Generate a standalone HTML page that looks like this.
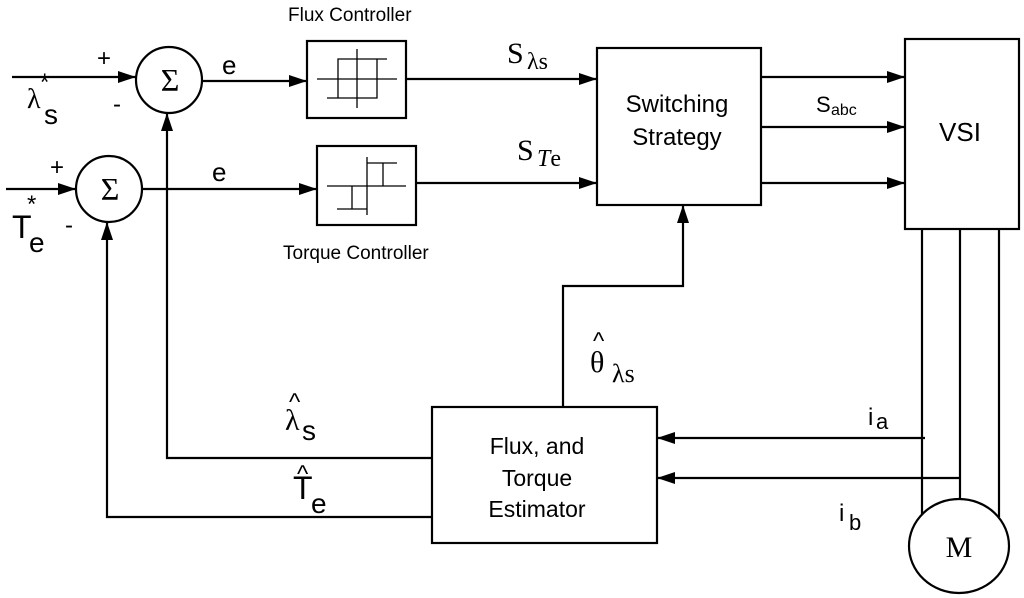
<!DOCTYPE html>
<html><head><meta charset="utf-8"><style>
html,body{margin:0;padding:0;background:#fff;}
svg{display:block;}
.s{font-family:"Liberation Sans",sans-serif;}
.r{font-family:"Liberation Serif",serif;}
</style></head><body>
<svg width="1024" height="598" viewBox="0 0 1024 598" xmlns="http://www.w3.org/2000/svg">
<defs>
<marker id="a" markerWidth="18" markerHeight="12" refX="18" refY="6" orient="auto" markerUnits="userSpaceOnUse">
<path d="M0,0 L18,6 L0,12 Z" fill="#000"/></marker>
</defs>
<g stroke="#000" stroke-width="2.2" fill="none">
<circle cx="169" cy="80" r="33" fill="#fff"/>
<circle cx="109" cy="189" r="33" fill="#fff"/>
<line x1="12" y1="77" x2="136" y2="77" marker-end="url(#a)"/>
<line x1="6" y1="189" x2="76" y2="189" marker-end="url(#a)"/>
<line x1="202" y1="81" x2="307" y2="81" marker-end="url(#a)"/>
<line x1="142" y1="189" x2="317" y2="189" marker-end="url(#a)"/>
<rect x="307" y="41" width="99" height="77"/>
<rect x="317" y="146" width="99" height="79"/>
<line x1="406" y1="79" x2="597" y2="79" marker-end="url(#a)"/>
<line x1="416" y1="183" x2="597" y2="183" marker-end="url(#a)"/>
<rect x="597" y="48" width="164" height="157"/>
<rect x="905" y="39" width="114" height="190"/>
<line x1="761" y1="77" x2="905" y2="77" marker-end="url(#a)"/>
<line x1="761" y1="127" x2="905" y2="127" marker-end="url(#a)"/>
<line x1="761" y1="183" x2="905" y2="183" marker-end="url(#a)"/>
<polyline points="563,407 563,286 683,286 683,205" marker-end="url(#a)"/>
<rect x="432" y="407" width="225" height="136"/>
<polyline points="432,458 167,458 167,113" marker-end="url(#a)"/>
<polyline points="432,517 107,517 107,222" marker-end="url(#a)"/>
<line x1="922" y1="229" x2="922" y2="514"/>
<line x1="960" y1="229" x2="960" y2="500"/>
<line x1="999" y1="229" x2="999" y2="517"/>
<ellipse cx="959" cy="546" rx="50" ry="47"/>
<line x1="925" y1="438" x2="657" y2="438" marker-end="url(#a)"/>
<line x1="960" y1="478" x2="657" y2="478" marker-end="url(#a)"/>
</g>
<g stroke="#000" stroke-width="1.3" fill="none">
<line x1="317" y1="79" x2="397" y2="79"/>
<line x1="357" y1="49" x2="357" y2="108"/>
<polyline points="387,59 338,59 338,98"/>
<polyline points="327,98 377,98 377,59"/>
<line x1="327" y1="186" x2="406" y2="186"/>
<line x1="367" y1="157" x2="367" y2="215"/>
<polyline points="367,163 397,163"/>
<line x1="383" y1="163" x2="383" y2="186"/>
<line x1="352" y1="186" x2="352" y2="209"/>
<line x1="337" y1="209" x2="367" y2="209"/>
</g>
<g class="r" font-size="32" text-anchor="middle">
<text x="170" y="91">Σ</text>
<text x="110" y="200">Σ</text>
</g>
<g class="s" fill="#000">
<text x="97" y="66" font-size="24">+</text>
<text x="113" y="112" font-size="24">-</text>
<text x="50" y="175" font-size="24">+</text>
<text x="65" y="233" font-size="24">-</text>
<text x="222" y="74" font-size="26">e</text>
<text x="212" y="181" font-size="26">e</text>
<text x="27" y="108" font-size="28" class="r">λ</text>
<text x="40" y="90" font-size="24">*</text>
<text x="44" y="124" font-size="28">s</text>
<text x="12" y="238" font-size="32">T</text>
<text x="29" y="252" font-size="28">e</text>
<text x="27" y="212" font-size="24">*</text>
<text x="288" y="21" font-size="19">Flux Controller</text>
<text x="283" y="259" font-size="19">Torque Controller</text>
<text x="677" y="112" font-size="24" text-anchor="middle">Switching</text>
<text x="677" y="145" font-size="24" text-anchor="middle">Strategy</text>
<text x="960" y="141" font-size="26" text-anchor="middle">VSI</text>
<text x="816" y="112" font-size="22">S</text>
<text x="831" y="115" font-size="16">abc</text>
<text x="537" y="454" font-size="23" text-anchor="middle">Flux, and</text>
<text x="537" y="486" font-size="23" text-anchor="middle">Torque</text>
<text x="537" y="517" font-size="23" text-anchor="middle">Estimator</text>
<text x="868" y="425" font-size="24">i</text>
<text x="876" y="429" font-size="22">a</text>
<text x="839" y="521" font-size="24">i</text>
<text x="849" y="530" font-size="22">b</text>
<text x="289" y="410" font-size="24">^</text>
<text x="285" y="430" font-size="30" class="r">λ</text>
<text x="302" y="440" font-size="28">s</text>
<text x="297" y="482" font-size="24">^</text>
<text x="293" y="499" font-size="32">T</text>
<text x="311" y="513" font-size="28">e</text>
<text x="593" y="349" font-size="24">^</text>
<text x="590" y="372" font-size="30" class="r">θ</text>
<text x="612" y="382" font-size="26" class="r">λs</text>
</g>
<g class="r" fill="#000">
<text x="507" y="63" font-size="30">S</text>
<text x="527" y="69" font-size="24">λs</text>
<text x="517" y="160" font-size="30">S</text>
<text x="537" y="166" font-size="24"><tspan font-style="italic">T</tspan>e</text>
<text x="959" y="557" font-size="30" text-anchor="middle">M</text>
</g>
</svg>
</body></html>
